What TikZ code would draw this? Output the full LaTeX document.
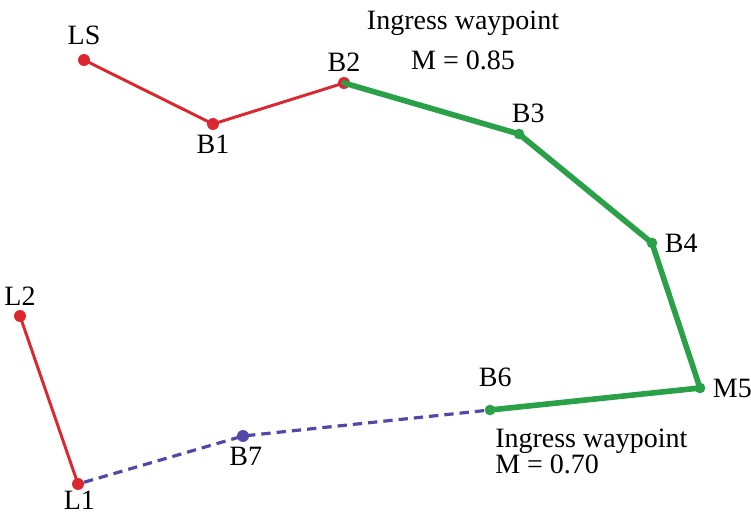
\documentclass[tikz,border=0pt]{standalone}
\usepackage{fontspec}
\setmainfont{Liberation Serif}
\definecolor{pathred}{RGB}{220,38,48}
\definecolor{pathgreen}{RGB}{42,160,72}
\definecolor{pathblue}{RGB}{82,72,170}
\tikzset{
  wp/.style={circle, fill=#1, inner sep=0pt, minimum size=9pt, label distance=1pt},
  greenwp/.style={wp=pathgreen, minimum size=8pt},
  redleg/.style={draw=pathred, line width=2.2pt},
  greenleg/.style={draw=pathgreen, line width=4.2pt, line cap=round, line join=round},
  blueleg/.style={draw=pathblue, line width=2.4pt, dash pattern=on 7pt off 4.5pt}
}
\begin{document}
\begin{tikzpicture}[x=0.75pt, y=-0.75pt, font=\fontsize{21}{23}\selectfont]
\useasboundingbox (0,0) rectangle (751,517);
% waypoints
\node[wp=pathred, label={[yshift=3pt]above:LS}] (LS) at (84,60) {};
\node[wp=pathred, label=below:B1] (B1) at (213,124) {};
\node[wp=pathred, label=above:B2] (B2) at (344,83) {};
\node[greenwp, label={[xshift=7pt,yshift=1pt]above:B3}] (B3) at (519,134) {};
\node[greenwp, label={[xshift=2pt]right:B4}] (B4) at (652,243) {};
\node[greenwp, label={[xshift=2pt]right:M5}] (M5) at (700,388) {};
\node[greenwp, label={[xshift=4pt,yshift=10pt]above:B6}] (B6) at (490,410) {};
\node[wp=pathblue, label={[xshift=2pt]below:B7}] (B7) at (243,436) {};
\node[wp=pathred, label={[yshift=3pt,xshift=1pt]below:L1}] (L1) at (78,484) {};
\node[wp=pathred, label=above:L2] (L2) at (20,316) {};

% legs
\draw[redleg] (LS.center) -- (B1.center) -- (B2.center);
\draw[redleg] (L2.center) -- (L1.center);
\draw[greenleg] (B2.center) -- (B3.center) -- (B4.center) -- (M5.center) -- (B6.center);
\draw[blueleg] (L1) -- (B7.center) -- (B6);

% ingress notes
\node[align=center] (top note) at (463,40) {Ingress waypoint\\[7pt] M = 0.85};
\node[align=left, anchor=north west, inner sep=0pt] (low note) at (495,429) {Ingress waypoint\\[-4pt] M = 0.70};
\end{tikzpicture}
\end{document}
